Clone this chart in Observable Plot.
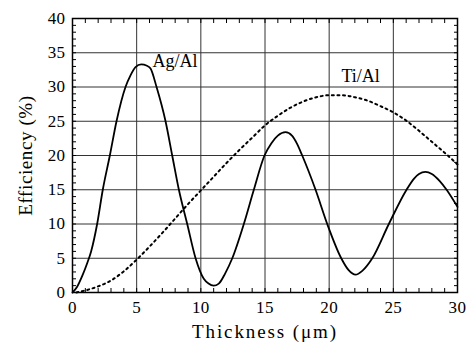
<!DOCTYPE html>
<html>
<head>
<meta charset="utf-8">
<script src="https://cdn.jsdelivr.net/npm/d3@7"></script>
<script src="https://cdn.jsdelivr.net/npm/@observablehq/plot@0.6"></script>
<style>
  html, body { margin: 0; padding: 0; background: #fff; }
  #chart svg, #chart svg text { font-family: "Liberation Serif", "Times New Roman", serif !important; }
  #chart g[aria-label="x-axis label"] text { letter-spacing: 1.9px; }
  #chart g[aria-label="y-axis label"] text { letter-spacing: 0.6px; }
  #chart g[aria-label="x-axis tick label"] text,
  #chart g[aria-label="y-axis tick label"] text { letter-spacing: 0.4px; }
</style>
</head>
<body>
<div id="chart"></div>
<script>
// Ag/Al efficiency curve (solid)
const agThickness = [0, 0.35, 0.8, 1.15, 1.45, 1.92, 2.36, 2.91, 3.43, 4.13, 4.52, 4.91, 5.35, 5.8, 6.08, 6.55, 7.25, 7.77, 8.29, 8.94, 9.59, 10.23, 10.6, 11.0, 11.4, 11.9, 12.45, 13.35, 14.13, 14.96, 15.5, 16.0, 16.6, 17.1, 17.5, 17.9, 18.94, 19.85, 20.94, 21.5, 22.06, 22.6, 23.36, 24.65, 26.03, 26.6, 27.0, 27.5, 28.0, 28.6, 29.15, 30];
const agEfficiency = [0, 0.8, 2.6, 4.3, 6.0, 10, 15, 20, 25, 30, 31.7, 32.9, 33.3, 33.1, 32.7, 30, 25, 20, 15, 10, 5, 2.0, 1.3, 1.0, 1.3, 2.8, 5, 10, 15, 20, 21.8, 22.9, 23.4, 22.9, 21.7, 20, 15, 10, 5, 3.3, 2.6, 3.2, 5, 10, 15, 16.6, 17.3, 17.6, 17.3, 16.3, 15, 12.5];

// Ti/Al efficiency curve (dotted)
const tiThickness = [0.3, 1, 2, 3, 4, 5, 6, 7, 8, 9, 10, 11, 12, 13, 14, 15, 16, 17, 18, 19, 20, 21, 22, 23, 24, 25, 26, 27, 28, 29, 30];
const tiEfficiency = [0, 0.3, 0.9, 1.75, 3.1, 4.8, 6.7, 8.7, 10.8, 12.9, 14.9, 16.9, 18.9, 20.8, 22.6, 24.4, 25.8, 27.0, 27.9, 28.5, 28.8, 28.8, 28.5, 28.0, 27.2, 26.3, 25.1, 23.6, 22.0, 20.4, 18.7];

// Curve labels
const labelText = ["Ag/Al", "Ti/Al"];
const labelX = [6.24, 20.96];
const labelY = [32.85, 30.8];

// Ticks
const xMajorTicks = [0, 5, 10, 15, 20, 25, 30];
const yMajorTicks = [0, 5, 10, 15, 20, 25, 30, 35, 40];
const xMinorTicks = d3.range(0, 31, 1);
const yMinorTicks = d3.range(0, 41, 1);
const xGrid = [5, 10, 15, 20, 25];
const yGrid = [5, 10, 15, 20, 25, 30, 35];

const ag = agThickness.map((x, i) => ({x, y: agEfficiency[i]}));
const ti = tiThickness.map((x, i) => ({x, y: tiEfficiency[i]}));
const labels = labelText.map((t, i) => ({t, x: labelX[i], y: labelY[i]}));

const serif = "'Liberation Serif', 'Times New Roman', serif";

const chart = Plot.plot({
  width: 469,
  height: 346,
  marginLeft: 72,
  marginRight: 12,
  marginTop: 18,
  marginBottom: 54,
  style: {fontFamily: serif, fontSize: "16px", color: "#000", background: "#fff"},
  x: {domain: [0, 30]},
  y: {domain: [0, 40]},
  marks: [
    Plot.gridX(xGrid, {stroke: "#333", strokeOpacity: 1, strokeWidth: 1}),
    Plot.gridY(yGrid, {stroke: "#333", strokeOpacity: 1, strokeWidth: 1}),
    // inward minor ticks on all four sides
    Plot.axisX({anchor: "bottom", ticks: xMinorTicks, tickSize: 4, dy: -4, fill: "none", label: null}),
    Plot.axisX({anchor: "top", ticks: xMinorTicks, tickSize: 4, dy: 4, fill: "none", label: null}),
    Plot.axisY({anchor: "left", ticks: yMinorTicks, tickSize: 4, dx: 4, fill: "none", label: null}),
    Plot.axisY({anchor: "right", ticks: yMinorTicks, tickSize: 4, dx: -4, fill: "none", label: null}),
    // tick labels + titles
    Plot.axisX({anchor: "bottom", ticks: xMajorTicks, tickSize: 0, tickPadding: 8, tickFormat: d => String(d),
      label: null, fontSize: 17, fontFamily: serif, fontVariant: "normal"}),
    Plot.axisX({anchor: "bottom", ticks: [], tickSize: 0,
      label: "Thickness (μm)", labelAnchor: "center", labelArrow: "none", labelOffset: 45, dx: 3, fontSize: 19, fontFamily: serif}),
    Plot.axisY({anchor: "left", ticks: yMajorTicks, tickSize: 0, tickPadding: 7, tickFormat: d => String(d),
      label: null, fontSize: 17, fontFamily: serif, fontVariant: "normal"}),
    Plot.axisY({anchor: "left", ticks: [], tickSize: 0,
      label: "Efficiency (%)", labelAnchor: "center", labelArrow: "none", labelOffset: 54, fontSize: 19, fontFamily: serif}),
    Plot.line(ti, {x: "x", y: "y", curve: "monotone-x", stroke: "#000", strokeWidth: 2, strokeDasharray: "2,3.6"}),
    Plot.line(ag, {x: "x", y: "y", curve: "monotone-x", stroke: "#000", strokeWidth: 1.8}),
    Plot.text(labels, {x: "x", y: "y", text: "t", textAnchor: "start", lineAnchor: "bottom", fontSize: 18, fontFamily: serif, fill: "#000"}),
    Plot.frame({stroke: "#000", strokeWidth: 1.5})
  ]
});

document.getElementById("chart").appendChild(chart);
</script>
</body>
</html>
